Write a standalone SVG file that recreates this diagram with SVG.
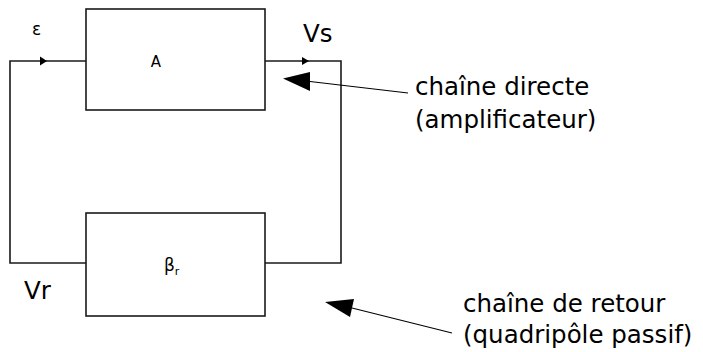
<svg xmlns="http://www.w3.org/2000/svg" width="703" height="352" viewBox="0 0 703 352">
<style>
.box{fill:#fff;stroke:#1a1a1a;stroke-width:1.6}
.wire{fill:none;stroke:#1a1a1a;stroke-width:1.6}
.ptr{fill:none;stroke:#000;stroke-width:1.2}
.big{font-family:"DejaVu Sans",sans-serif;font-size:24.5px;fill:#000}
.small{font-family:"DejaVu Sans",sans-serif;fill:#000}
</style>
<g id="connectors">
<path class="wire" d="M86,61 H10 V263 H86"/>
<path class="wire" d="M265,61 H341 V263 H265"/>
<path d="M40,56.5 L47,61 L40,65.5 Z" fill="#000"/>
<path d="M302,57 L309,61 L302,65 Z" fill="#000"/>
<path class="ptr" d="M408,93 L310,81.5"/>
<path d="M283,78.5 L310,72 L310,91 Z" fill="#000"/>
<path class="ptr" d="M452,333 L352,308"/>
<path d="M325,302 L354,299 L350,317 Z" fill="#000"/>
</g>
<g id="nodeA">
<rect class="box" x="86" y="9" width="179" height="101"/>
<text class="small" x="156" y="67" text-anchor="middle" style="font-size:15px">A</text>
</g>
<g id="nodeBeta">
<rect class="box" x="86" y="213" width="179" height="103"/>
<text class="small" x="164" y="271" style="font-size:17px">β<tspan style="font-size:11px" dy="4">r</tspan></text>
</g>
<g id="labels">
<text class="small" x="32" y="35" style="font-size:17px">ε</text>
<text class="big" x="303" y="42">Vs</text>
<text class="big" x="24" y="299">Vr</text>
<text class="big" x="415" y="95">chaîne directe</text>
<text class="big" x="415" y="128">(amplificateur)</text>
<text class="big" x="463" y="312">chaîne de retour</text>
<text class="big" x="463" y="343">(quadripôle passif)</text>
</g>
</svg>
